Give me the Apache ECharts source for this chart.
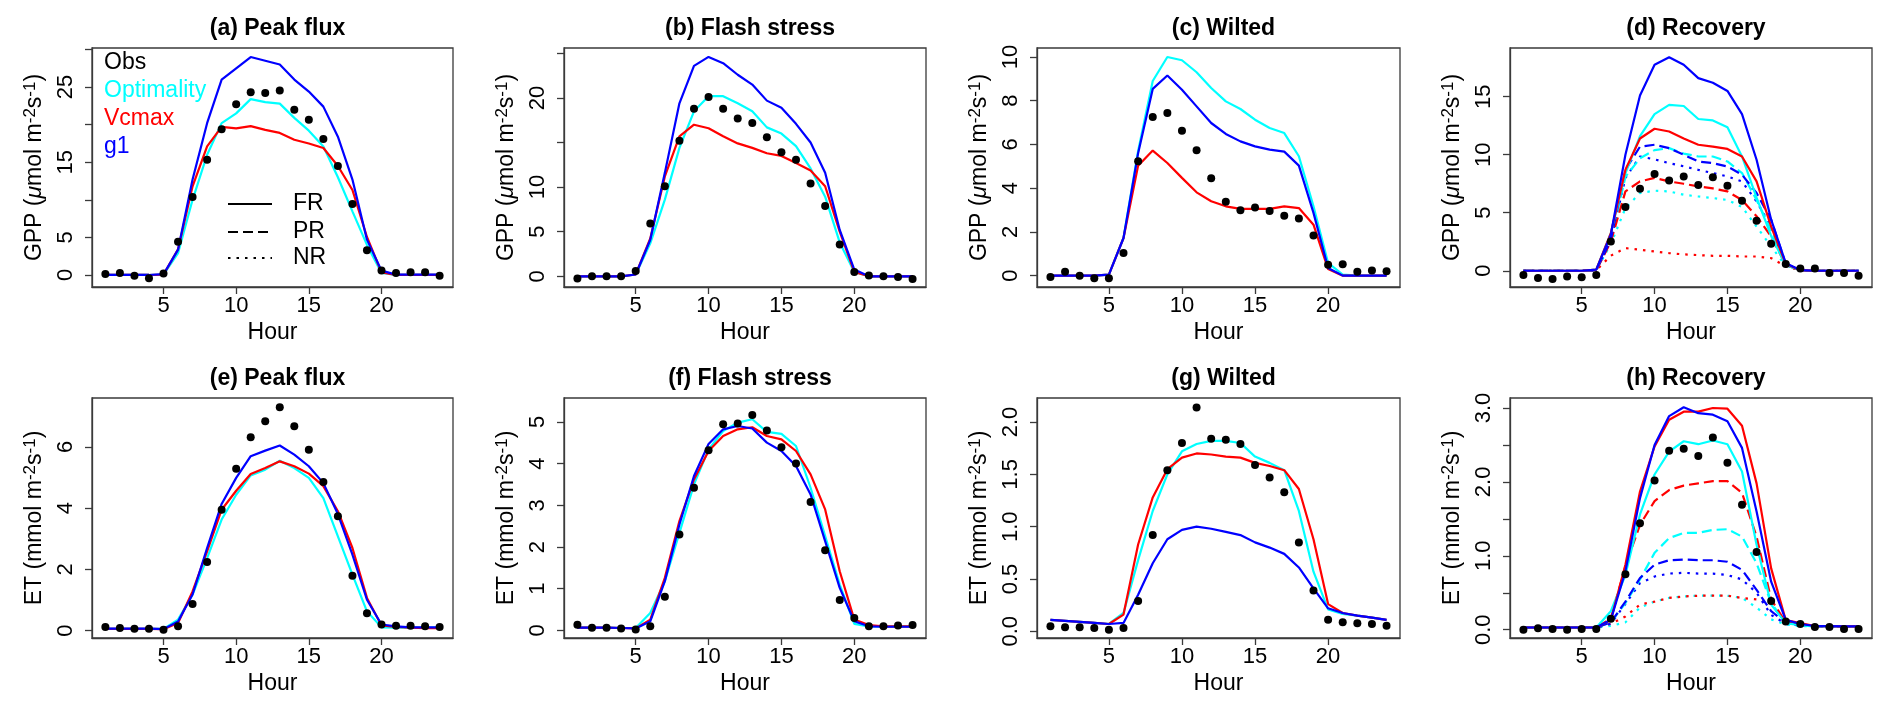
<!DOCTYPE html>
<html>
<head>
<meta charset="utf-8">
<title>GPP and ET diurnal cycles</title>
<script src="https://cdn.jsdelivr.net/npm/echarts@6.0.0/dist/echarts.min.js"></script>
<style>
  html, body { margin: 0; padding: 0; background: #fff; }
  #main { width: 1892px; height: 711px; }
</style>
</head>
<body>
<div id="main"></div>
<script type="text/javascript">
// hours of the day
var hours = [1, 2, 3, 4, 5, 6, 7, 8, 9, 10, 11, 12, 13, 14, 15, 16, 17, 18, 19, 20, 21, 22, 23, 24];
var xTicks = [5, 10, 15, 20];

// (a) GPP peak flux
var gppPeakObs   = [0.13, 0.27, -0.09, -0.44, 0.18, 4.43, 10.37, 15.34, 19.4, 22.7, 24.3, 24.2, 24.56, 22.0, 20.66, 18.1, 14.5, 9.44, 3.28, 0.58, 0.27, 0.35, 0.35, -0.09];
var gppPeakOpt   = [0, 0, 0, 0, 0.05, 2.9, 10.0, 16.0, 20.2, 21.5, 23.4, 23.0, 22.8, 20.9, 19.2, 17.1, 13.0, 8.47, 4.0, 0.27, 0, 0, 0, 0];
var gppPeakVcmax = [0, 0, 0, 0, 0.05, 3.4, 11.8, 17.1, 19.7, 19.5, 19.8, 19.3, 18.9, 18.0, 17.5, 16.9, 14.5, 11.3, 5.05, 0.35, 0, 0, 0, 0];
var gppPeakG1    = [0, 0, 0, 0, 0.1, 3.37, 12.7, 20.2, 26.0, 27.5, 29.0, 28.5, 28.0, 26.0, 24.4, 22.4, 18.4, 12.7, 4.7, 0.58, 0.05, 0.05, 0.05, 0.05];

// (b) GPP flash stress
var gppFlashObs   = [-0.26, 0, 0, 0, 0.6, 5.93, 10.1, 15.2, 18.8, 20.1, 18.8, 17.7, 17.2, 15.6, 13.9, 13.06, 10.4, 7.88, 3.56, 0.49, 0.08, 0, -0.08, -0.3];
var gppFlashOpt   = [0, 0, 0, 0, 0.2, 3.7, 8.6, 14.4, 18.5, 20.2, 20.2, 19.4, 18.5, 16.7, 16.0, 14.6, 12.1, 8.93, 3.8, 0.49, 0, 0, 0, 0];
var gppFlashVcmax = [0, 0, 0, 0, 0.2, 4.24, 11.2, 15.7, 17.0, 16.6, 15.7, 14.9, 14.4, 13.8, 13.5, 12.7, 11.86, 10.1, 5.0, 0.49, 0, 0, 0, 0];
var gppFlashG1    = [0, 0, 0, 0, 0.2, 4.1, 11.6, 19.4, 23.6, 24.6, 23.9, 22.6, 21.5, 19.7, 18.9, 17.1, 15.0, 11.6, 5.2, 0.75, 0, 0, 0, 0];

// (c) GPP wilted
var gppWiltObs   = [-0.06, 0.18, 0, -0.12, -0.12, 1.04, 5.23, 7.26, 7.44, 6.63, 5.73, 4.45, 3.38, 2.99, 3.11, 2.96, 2.74, 2.61, 1.83, 0.5, 0.52, 0.18, 0.23, 0.2];
var gppWiltOpt   = [0, 0, 0, 0, 0.05, 1.72, 5.7, 8.9, 10.0, 9.85, 9.3, 8.58, 7.97, 7.62, 7.13, 6.75, 6.52, 5.46, 3.17, 0.58, 0.05, 0, 0, 0];
var gppWiltVcmax = [0, 0, 0, 0, 0.05, 1.72, 5.03, 5.72, 5.15, 4.47, 3.81, 3.4, 3.17, 3.05, 3.05, 3.05, 3.17, 3.09, 2.33, 0.3, 0, 0, 0, 0];
var gppWiltG1    = [0, 0, 0, 0, 0.05, 1.72, 5.6, 8.54, 9.15, 8.5, 7.74, 6.98, 6.48, 6.14, 5.91, 5.76, 5.67, 5.03, 2.87, 0.35, 0, 0, 0, 0];

// (d) GPP recovery: FR / PR / NR
var gppRecObs      = [-0.37, -0.63, -0.72, -0.49, -0.55, -0.37, 2.53, 5.49, 7.07, 8.33, 7.79, 8.13, 7.39, 8.05, 7.33, 6.03, 4.31, 2.33, 0.58, 0.19, 0.19, -0.2, -0.2, -0.43];
var gppRecOptFR    = [0, 0, 0, 0, 0, 0.1, 3.25, 8.4, 11.6, 13.5, 14.3, 14.2, 13.08, 12.96, 12.36, 9.85, 6.3, 3.0, 0.5, 0.05, 0, 0, 0, 0];
var gppRecVcmaxFR  = [0, 0, 0, 0, 0, 0.1, 3.25, 8.7, 11.4, 12.24, 12.0, 11.4, 10.86, 10.7, 10.5, 9.85, 7.7, 3.8, 0.6, 0.05, 0, 0, 0, 0];
var gppRecG1FR     = [0, 0, 0, 0, 0, 0.1, 3.1, 10.0, 15.1, 17.76, 18.4, 17.76, 16.6, 16.2, 15.5, 13.5, 9.57, 4.4, 0.66, 0.05, 0, 0, 0, 0];
var gppRecOptPR    = [0, 0, 0, 0, 0, 0.05, 2.6, 8.1, 9.7, 10.4, 10.57, 10.1, 9.85, 9.85, 9.42, 8.42, 6.1, 3.5, 0.5, 0.05, 0, 0, 0, 0];
var gppRecVcmaxPR  = [0, 0, 0, 0, 0, 0.05, 2.5, 6.84, 7.7, 8.0, 7.7, 7.5, 7.27, 7.1, 6.84, 6.1, 4.7, 2.96, 0.5, 0.05, 0, 0, 0, 0];
var gppRecG1PR     = [0, 0, 0, 0, 0, 0.05, 2.7, 8.7, 10.7, 10.86, 10.57, 10.0, 9.42, 9.28, 8.99, 8.28, 6.7, 4.4, 0.6, 0.05, 0, 0, 0, 0];
var gppRecOptNR    = [0, 0, 0, 0, 0, 0.05, 2.3, 5.4, 6.7, 6.9, 6.84, 6.55, 6.4, 6.27, 6.1, 5.5, 3.8, 2.1, 0.4, 0.05, 0, 0, 0, 0];
var gppRecVcmaxNR  = [0, 0, 0, 0, 0, 0.05, 1.3, 1.95, 1.81, 1.66, 1.52, 1.41, 1.35, 1.29, 1.29, 1.23, 1.23, 1.09, 0.37, 0.05, 0, 0, 0, 0];
var gppRecG1NR     = [0, 0, 0, 0, 0, 0.05, 2.6, 8.0, 9.85, 9.6, 9.28, 9.0, 8.7, 8.42, 8.13, 7.7, 5.97, 3.8, 0.5, 0.05, 0, 0, 0, 0];

// (e) ET peak flux
var etPeakObs   = [0.12, 0.09, 0.065, 0.065, 0.03, 0.14, 0.87, 2.24, 3.95, 5.29, 6.32, 6.84, 7.3, 6.68, 5.91, 4.86, 3.74, 1.79, 0.57, 0.2, 0.16, 0.16, 0.14, 0.12];
var etPeakOpt   = [0.06, 0.06, 0.06, 0.06, 0.06, 0.36, 1.18, 2.37, 3.63, 4.44, 5.07, 5.26, 5.55, 5.31, 4.99, 4.33, 3.08, 1.83, 0.63, 0.11, 0.1, 0.1, 0.1, 0.1];
var etPeakVcmax = [0.06, 0.06, 0.06, 0.06, 0.05, 0.25, 1.28, 2.59, 3.95, 4.57, 5.12, 5.31, 5.53, 5.37, 5.13, 4.72, 3.9, 2.7, 1.07, 0.17, 0.12, 0.1, 0.08, 0.08];
var etPeakG1    = [0.065, 0.065, 0.065, 0.065, 0.05, 0.3, 1.18, 2.7, 4.14, 4.99, 5.7, 5.88, 6.05, 5.75, 5.37, 4.82, 3.81, 2.48, 1.01, 0.2, 0.14, 0.11, 0.11, 0.11];

// (f) ET flash stress
var etFlashObs   = [0.14, 0.064, 0.064, 0.048, 0.024, 0.1, 0.81, 2.3, 3.42, 4.32, 4.94, 4.96, 5.16, 4.79, 4.39, 4.0, 3.08, 1.92, 0.73, 0.3, 0.1, 0.1, 0.12, 0.13];
var etFlashOpt   = [0.07, 0.07, 0.07, 0.06, 0.06, 0.42, 1.18, 2.34, 3.5, 4.34, 4.78, 4.98, 5.06, 4.76, 4.71, 4.42, 3.42, 2.26, 1.1, 0.16, 0.1, 0.1, 0.1, 0.1];
var etFlashVcmax = [0.07, 0.07, 0.07, 0.06, 0.05, 0.26, 1.26, 2.62, 3.62, 4.3, 4.66, 4.82, 4.87, 4.66, 4.58, 4.3, 3.74, 2.9, 1.42, 0.26, 0.13, 0.1, 0.1, 0.1];
var etFlashG1    = [0.07, 0.07, 0.07, 0.06, 0.05, 0.22, 1.18, 2.54, 3.7, 4.47, 4.82, 4.9, 4.84, 4.5, 4.3, 3.94, 3.26, 2.14, 1.02, 0.22, 0.1, 0.09, 0.09, 0.09];

// (g) ET wilted
var etWiltObs   = [0.048, 0.038, 0.038, 0.032, 0.016, 0.032, 0.29, 0.92, 1.54, 1.8, 2.14, 1.84, 1.83, 1.79, 1.59, 1.47, 1.33, 0.85, 0.39, 0.11, 0.086, 0.077, 0.07, 0.054];
var etWiltOpt   = [0.11, 0.1, 0.09, 0.08, 0.07, 0.175, 0.68, 1.15, 1.5, 1.72, 1.79, 1.82, 1.82, 1.8, 1.67, 1.61, 1.54, 1.15, 0.57, 0.21, 0.166, 0.15, 0.13, 0.11];
var etWiltVcmax = [0.11, 0.1, 0.09, 0.08, 0.07, 0.16, 0.83, 1.28, 1.55, 1.66, 1.7, 1.69, 1.67, 1.66, 1.61, 1.58, 1.54, 1.36, 0.88, 0.26, 0.175, 0.15, 0.13, 0.11];
var etWiltG1    = [0.11, 0.1, 0.09, 0.08, 0.07, 0.08, 0.35, 0.65, 0.88, 0.97, 1.0, 0.98, 0.95, 0.92, 0.85, 0.8, 0.74, 0.61, 0.41, 0.22, 0.175, 0.15, 0.13, 0.11];

// (h) ET recovery: FR / PR / NR
var etRecObs      = [0, 0.02, 0.01, 0, 0.01, 0.01, 0.15, 0.75, 1.44, 2.02, 2.42, 2.45, 2.35, 2.6, 2.26, 1.69, 1.05, 0.39, 0.11, 0.077, 0.036, 0.036, 0.01, 0.01];
var etRecOptFR    = [0.03, 0.03, 0.03, 0.03, 0.03, 0.03, 0.25, 0.74, 1.56, 2.1, 2.41, 2.55, 2.51, 2.56, 2.51, 2.14, 1.15, 0.34, 0.09, 0.06, 0.045, 0.045, 0.045, 0.045];
var etRecVcmaxFR  = [0.03, 0.03, 0.03, 0.03, 0.03, 0.03, 0.13, 0.88, 1.87, 2.48, 2.84, 2.95, 2.95, 3.0, 2.99, 2.76, 1.98, 0.83, 0.13, 0.09, 0.05, 0.05, 0.045, 0.045];
var etRecG1FR     = [0.03, 0.03, 0.03, 0.03, 0.03, 0.03, 0.135, 0.79, 1.78, 2.5, 2.89, 3.01, 2.93, 2.91, 2.82, 2.46, 1.6, 0.65, 0.135, 0.077, 0.05, 0.05, 0.045, 0.045];
var etRecOptPR    = [0.03, 0.03, 0.03, 0.03, 0.03, 0.03, 0.1, 0.36, 0.68, 1.04, 1.24, 1.31, 1.31, 1.35, 1.36, 1.26, 0.9, 0.36, 0.1, 0.06, 0.045, 0.045, 0.045, 0.045];
var etRecVcmaxPR  = [0.03, 0.03, 0.03, 0.03, 0.03, 0.03, 0.15, 0.86, 1.42, 1.74, 1.89, 1.95, 1.98, 2.01, 2.01, 1.85, 1.26, 0.41, 0.1, 0.07, 0.05, 0.05, 0.045, 0.045];
var etRecG1PR     = [0.03, 0.03, 0.03, 0.03, 0.03, 0.03, 0.1, 0.38, 0.7, 0.88, 0.94, 0.95, 0.94, 0.94, 0.92, 0.81, 0.54, 0.25, 0.1, 0.06, 0.045, 0.045, 0.045, 0.045];
var etRecOptNR    = [0.03, 0.03, 0.03, 0.03, 0.03, 0.03, 0.05, 0.1, 0.3, 0.38, 0.43, 0.45, 0.46, 0.46, 0.46, 0.43, 0.3, 0.14, 0.07, 0.05, 0.045, 0.045, 0.045, 0.045];
var etRecVcmaxNR  = [0.03, 0.03, 0.03, 0.03, 0.03, 0.03, 0.08, 0.18, 0.34, 0.38, 0.43, 0.45, 0.46, 0.46, 0.46, 0.43, 0.41, 0.35, 0.1, 0.06, 0.045, 0.045, 0.045, 0.045];
var etRecG1NR     = [0.03, 0.03, 0.03, 0.03, 0.03, 0.03, 0.08, 0.35, 0.63, 0.72, 0.76, 0.77, 0.76, 0.76, 0.74, 0.68, 0.5, 0.2, 0.08, 0.06, 0.045, 0.045, 0.045, 0.045];

var FONT = '"Liberation Sans", Arial, Helvetica, sans-serif';
var C_OPT = '#00FFFF', C_VC = '#FF0000', C_G1 = '#0000FF';
var DASH = [10, 5], DOT = [2.5, 6];

// axis titles as rich text (every fragment styled explicitly)
var gppName = '{t|GPP (}{mu|\u03bc}{t|mol m}{sup|-2}{t|s}{sup|-1}{t|)}';
var etName = '{t|ET (mmol m}{sup|-2}{t|s}{sup|-1}{t|)}';
var nameRich = {
  t:   { fontFamily: FONT, fontSize: 23, color: '#000', lineHeight: 26, verticalAlign: 'middle' },
  mu:  { fontFamily: FONT, fontSize: 23, color: '#000', lineHeight: 26, fontStyle: 'italic', verticalAlign: 'middle' },
  sup: { fontFamily: FONT, fontSize: 17, color: '#000', lineHeight: 17, verticalAlign: 'top' }
};

// panel layout (grid boxes)
var lefts = [92, 564, 1037, 1510];
var widths = [361, 362, 363, 362];
var tops = [48, 398];
var heights = [239, 240];
var titleTops = [12, 362];

var panels = [
  { title: '(a) Peak flux', yName: gppName, min: -1.6, max: 30.2, ticks: [0, 5, 10, 15, 20, 25, 30], labels: [0, 5, 15, 25], dec: 0,
    obs: gppPeakObs, fr: [gppPeakOpt, gppPeakVcmax, gppPeakG1] },
  { title: '(b) Flash stress', yName: gppName, min: -1.2, max: 25.6, ticks: [0, 5, 10, 15, 20, 25], labels: [0, 5, 10, 20], dec: 0,
    obs: gppFlashObs, fr: [gppFlashOpt, gppFlashVcmax, gppFlashG1] },
  { title: '(c) Wilted', yName: gppName, min: -0.52, max: 10.41, ticks: [0, 2, 4, 6, 8, 10], labels: [0, 2, 4, 6, 8, 10], dec: 0,
    obs: gppWiltObs, fr: [gppWiltOpt, gppWiltVcmax, gppWiltG1] },
  { title: '(d) Recovery', yName: gppName, min: -1.4, max: 19.2, ticks: [0, 5, 10, 15], labels: [0, 5, 10, 15], dec: 0,
    obs: gppRecObs, fr: [gppRecOptFR, gppRecVcmaxFR, gppRecG1FR],
    pr: [gppRecOptPR, gppRecVcmaxPR, gppRecG1PR], nr: [gppRecOptNR, gppRecVcmaxNR, gppRecG1NR] },
  { title: '(e) Peak flux', yName: etName, min: -0.24, max: 7.6, ticks: [0, 2, 4, 6], labels: [0, 2, 4, 6], dec: 0,
    obs: etPeakObs, fr: [etPeakOpt, etPeakVcmax, etPeakG1] },
  { title: '(f) Flash stress', yName: etName, min: -0.18, max: 5.57, ticks: [0, 1, 2, 3, 4, 5], labels: [0, 1, 2, 3, 4, 5], dec: 0,
    obs: etFlashObs, fr: [etFlashOpt, etFlashVcmax, etFlashG1] },
  { title: '(g) Wilted', yName: etName, min: -0.064, max: 2.23, ticks: [0, 0.5, 1, 1.5, 2], labels: [0, 0.5, 1, 1.5, 2], dec: 1,
    obs: etWiltObs, fr: [etWiltOpt, etWiltVcmax, etWiltG1] },
  { title: '(h) Recovery', yName: etName, min: -0.112, max: 3.135, ticks: [0, 0.5, 1, 1.5, 2, 2.5, 3], labels: [0, 1, 2, 3], dec: 1,
    obs: etRecObs, fr: [etRecOptFR, etRecVcmaxFR, etRecG1FR],
    pr: [etRecOptPR, etRecVcmaxPR, etRecG1PR], nr: [etRecOptNR, etRecVcmaxNR, etRecG1NR] }
];

function pairs(ys) {
  return hours.map(function (h, i) { return [h, ys[i]]; });
}

var modelNames = ['Optimality', 'Vcmax', 'g1'];
var modelColors = [C_OPT, C_VC, C_G1];

var grids = [], xAxes = [], yAxes = [], titles = [], series = [];

panels.forEach(function (p, i) {
  var col = i % 4, row = Math.floor(i / 4);
  grids.push({
    left: lefts[col], top: tops[row], width: widths[col], height: heights[row],
    show: true, borderColor: '#3a3a3a', borderWidth: 1.3, backgroundColor: 'transparent'
  });
  titles.push({
    text: p.title, left: lefts[col] + widths[col] / 2, top: titleTops[row], textAlign: 'center',
    textStyle: { fontFamily: FONT, fontSize: 23, fontWeight: 'bold', color: '#000' }
  });
  xAxes.push({
    gridIndex: i, type: 'value', min: 0.08, max: 24.92,
    name: 'Hour', nameLocation: 'middle', nameGap: 34,
    nameTextStyle: { fontFamily: FONT, fontSize: 23, color: '#000' },
    axisLine: { show: true, onZero: false, lineStyle: { color: '#3a3a3a', width: 1.3 } },
    axisTick: { show: true, length: 7, customValues: xTicks, lineStyle: { color: '#3a3a3a', width: 1.3 } },
    axisLabel: { customValues: xTicks, margin: 7.5, fontFamily: FONT, fontSize: 22, color: '#000' },
    splitLine: { show: false }
  });
  yAxes.push({
    gridIndex: i, type: 'value', min: p.min, max: p.max,
    name: p.yName, nameLocation: 'middle', nameGap: 44, nameRotate: 90,
    nameTextStyle: { fontFamily: FONT, fontSize: 23, color: '#000', lineHeight: 26, rich: nameRich },
    axisLine: { show: true, onZero: false, lineStyle: { color: '#3a3a3a', width: 1.3 } },
    axisTick: { show: true, length: 7, customValues: p.ticks, lineStyle: { color: '#3a3a3a', width: 1.3 } },
    axisLabel: {
      customValues: p.labels, rotate: 90, margin: 15, fontFamily: FONT, fontSize: 22, color: '#000',
      formatter: (function (d) { return function (v) { return Number(v).toFixed(d); }; })(p.dec)
    },
    splitLine: { show: false }
  });

  function addLines(sets, kind, suffix) {
    if (!sets) return;
    sets.forEach(function (vals, k) {
      series.push({
        name: modelNames[k] + suffix, type: 'line', xAxisIndex: i, yAxisIndex: i,
        data: pairs(vals), symbol: 'none', showSymbol: false, silent: true,
        lineStyle: { color: modelColors[k], width: 2.2, type: kind },
        itemStyle: { color: modelColors[k] }, z: 2
      });
    });
  }
  addLines(p.nr, DOT, ' NR');
  addLines(p.pr, DASH, ' PR');
  addLines(p.fr, 'solid', '');

  series.push({
    name: 'Obs', type: 'scatter', xAxisIndex: i, yAxisIndex: i,
    data: pairs(p.obs), symbol: 'circle', symbolSize: 8, silent: true,
    itemStyle: { color: '#000', opacity: 1 }, z: 3
  });
});

var myChart = echarts.init(document.getElementById('main'), null, { renderer: 'canvas' });

var option = {
  animation: false,
  backgroundColor: '#fff',
  textStyle: { fontFamily: FONT },
  title: titles,
  grid: grids,
  xAxis: xAxes,
  yAxis: yAxes,
  legend: {
    orient: 'vertical', left: 94, top: 46, icon: 'none', itemWidth: 0, itemHeight: 23, itemGap: 5,
    selectedMode: false,
    textStyle: { fontFamily: FONT, fontSize: 23 },
    data: [
      { name: 'Obs', textStyle: { color: '#000' } },
      { name: 'Optimality', textStyle: { color: C_OPT } },
      { name: 'Vcmax', textStyle: { color: C_VC } },
      { name: 'g1', textStyle: { color: C_G1 } }
    ]
  },
  // line type key (FR / PR / NR)
  graphic: [
    { type: 'line', shape: { x1: 228, y1: 204, x2: 272, y2: 204 }, style: { stroke: '#000', lineWidth: 2 } },
    { type: 'line', shape: { x1: 228, y1: 232, x2: 272, y2: 232 }, style: { stroke: '#000', lineWidth: 2, lineDash: DASH } },
    { type: 'line', shape: { x1: 228, y1: 258, x2: 272, y2: 258 }, style: { stroke: '#000', lineWidth: 2, lineDash: DOT } },
    { type: 'text', x: 293, y: 204, style: { text: 'FR', font: '23px ' + FONT, fill: '#000', verticalAlign: 'middle' } },
    { type: 'text', x: 293, y: 232, style: { text: 'PR', font: '23px ' + FONT, fill: '#000', verticalAlign: 'middle' } },
    { type: 'text', x: 293, y: 258, style: { text: 'NR', font: '23px ' + FONT, fill: '#000', verticalAlign: 'middle' } }
  ],
  series: series
};

myChart.setOption(option);
</script>
</body>
</html>
